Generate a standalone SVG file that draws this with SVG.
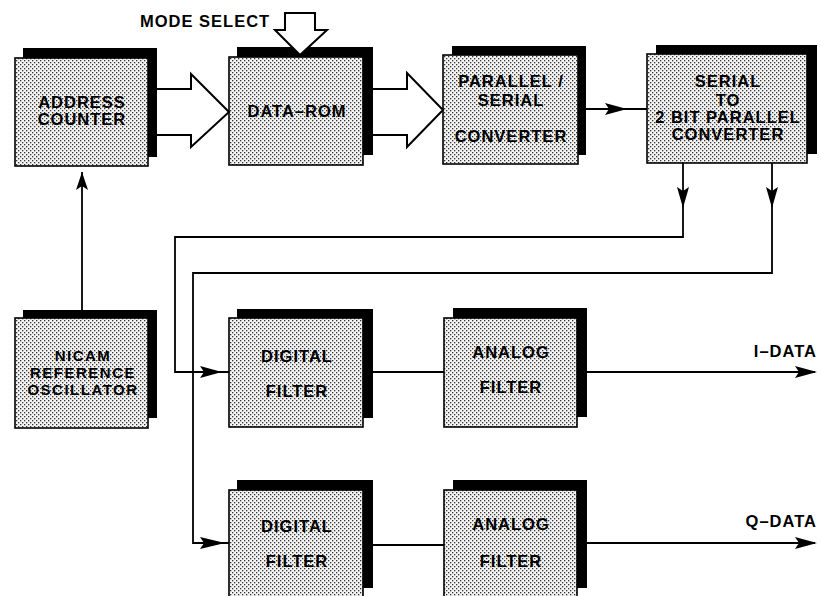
<svg xmlns="http://www.w3.org/2000/svg" width="821" height="596" viewBox="0 0 821 596">
<defs>
<pattern id="dots" patternUnits="userSpaceOnUse" width="4" height="4">
<rect width="4" height="4" fill="#f4f4f4"/>
<rect x="0" y="0" width="1.3" height="1.3" fill="#333"/>
<rect x="2" y="2" width="1.3" height="1.3" fill="#333"/>
</pattern>
</defs>
<style>
.sh{fill:#000}
.fr{fill:url(#dots);stroke:#000;stroke-width:1.6}
.t{font-family:"Liberation Sans",Arial,sans-serif;font-weight:bold;font-size:16.5px;letter-spacing:1px;text-anchor:middle;fill:#000}
.ts{font-family:"Liberation Sans",Arial,sans-serif;font-weight:bold;font-size:15px;letter-spacing:1.5px;text-anchor:middle;fill:#000}
.lbl{font-family:"Liberation Sans",Arial,sans-serif;font-weight:bold;font-size:16.5px;letter-spacing:1px;fill:#000}
.ln{fill:none;stroke:#000;stroke-width:1.8}
.hol{fill:#fff;stroke:#000;stroke-width:2;stroke-linejoin:miter}
.ah{fill:#000}
</style>
<rect width="821" height="596" fill="#fff"/>

<g id="address-counter">
<rect class="sh" x="23" y="48" width="134" height="109"/>
<rect class="fr" x="15" y="58" width="133" height="108"/>
<text class="t" x="82" y="108">ADDRESS</text>
<text class="t" x="82" y="125">COUNTER</text>
</g>

<g id="data-rom">
<rect class="sh" x="237" y="47" width="136" height="108"/>
<rect class="fr" x="229" y="57" width="134" height="108"/>
<text class="t" x="297" y="117">DATA–ROM</text>
</g>

<g id="parallel-serial">
<rect class="sh" x="452" y="46" width="134" height="109"/>
<rect class="fr" x="443" y="55" width="135" height="109"/>
<text class="t" x="511" y="87">PARALLEL /</text>
<text class="t" x="511" y="106">SERIAL</text>
<text class="t" x="511" y="142">CONVERTER</text>
</g>

<g id="serial-2bit">
<rect class="sh" x="656" y="45" width="161" height="109"/>
<rect class="fr" x="647" y="54" width="160" height="109"/>
<text class="t" x="728" y="87">SERIAL</text>
<text class="t" x="728" y="106">TO</text>
<text class="t" x="728" y="123">2 BIT PARALLEL</text>
<text class="t" x="728" y="140">CONVERTER</text>
</g>

<g id="nicam">
<rect class="sh" x="23" y="310" width="134" height="108"/>
<rect class="fr" x="15" y="318" width="133" height="110"/>
<text class="ts" x="83" y="361">NICAM</text>
<text class="ts" x="83" y="378">REFERENCE</text>
<text class="ts" x="83" y="395">OSCILLATOR</text>
</g>

<g id="digital-filter-i">
<rect class="sh" x="237" y="309" width="136" height="109"/>
<rect class="fr" x="229" y="318" width="134" height="109"/>
<text class="t" x="297" y="362">DIGITAL</text>
<text class="t" x="297" y="397">FILTER</text>
</g>

<g id="analog-filter-i">
<rect class="sh" x="453" y="308" width="134" height="109"/>
<rect class="fr" x="444" y="318" width="133" height="109"/>
<text class="t" x="511" y="358">ANALOG</text>
<text class="t" x="511" y="393">FILTER</text>
</g>

<g id="digital-filter-q">
<rect class="sh" x="237" y="480" width="136" height="108"/>
<rect class="fr" x="229" y="490" width="134" height="110"/>
<text class="t" x="297" y="532">DIGITAL</text>
<text class="t" x="297" y="567">FILTER</text>
</g>

<g id="analog-filter-q">
<rect class="sh" x="453" y="480" width="134" height="108"/>
<rect class="fr" x="444" y="490" width="133" height="110"/>
<text class="t" x="511" y="530">ANALOG</text>
<text class="t" x="511" y="567">FILTER</text>
</g>

<g id="connectors">
<path class="hol" d="M157,89 L191,89 L191,74 L229,112 L191,147 L191,135 L157,135"/>
<path class="hol" d="M373,89 L407,89 L407,73 L443,110 L407,147 L407,135 L373,135"/>
<path class="hol" d="M285,13 L315,13 L315,30 L327,30 L300,55 L275,30 L285,30 Z"/>
<text class="lbl" x="140" y="27">MODE SELECT</text>

<line class="ln" x1="586" y1="109" x2="647" y2="109"/>
<path class="ah" d="M605,103 L627,109 L605,115 L609,109 Z"/>

<path class="ln" d="M82,310 L82,172"/>
<path class="ah" d="M82,172 L88,190 L82,186 L76,190 Z"/>

<path class="ln" d="M683,163 L683,237 L175,237 L175,372 L229,372"/>
<path class="ah" d="M677,187 L683,208 L689,187 L683,191 Z"/>
<path class="ah" d="M200,366 L222,372 L200,378 L204,372 Z"/>

<path class="ln" d="M772,163 L772,273 L193,273 L193,543 L229,543"/>
<path class="ah" d="M766,187 L772,208 L778,187 L772,191 Z"/>
<path class="ah" d="M200,537 L225,543 L200,549 L204,543 Z"/>

<line class="ln" x1="373" y1="372" x2="444" y2="372"/>
<line class="ln" x1="373" y1="545" x2="444" y2="545"/>

<line class="ln" x1="587" y1="372" x2="815" y2="372"/>
<path class="ah" d="M795,366 L817,372 L795,378 L799,372 Z"/>
<text class="lbl" x="817" y="357" text-anchor="end">I–DATA</text>

<line class="ln" x1="587" y1="543" x2="815" y2="543"/>
<path class="ah" d="M795,537 L817,543 L795,549 L799,543 Z"/>
<text class="lbl" x="817" y="527" text-anchor="end">Q–DATA</text>
</g>
</svg>
